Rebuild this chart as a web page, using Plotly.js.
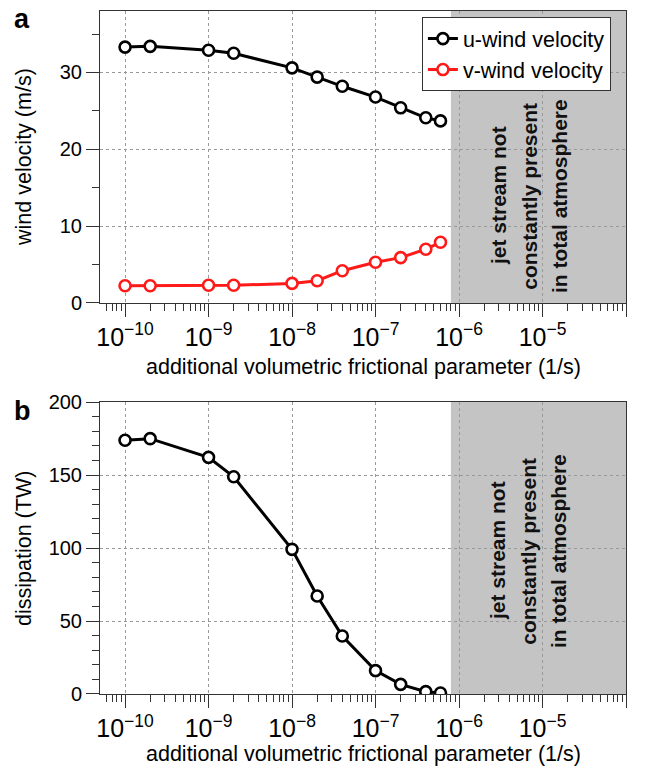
<!DOCTYPE html>
<html>
<head>
<meta charset="utf-8">
<script src="https://cdn.plot.ly/plotly-3.0.1.min.js"></script>
<style>html,body{margin:0;padding:0;background:#fff;}#chart{width:650px;height:767px;}</style>
</head>
<body>
<div id="chart"></div>
<script>
// Data
var frictionParam = [1e-10, 2e-10, 1e-9, 2e-9, 1e-8, 2e-8, 4e-8, 1e-7, 2e-7, 4e-7, 6e-7];
var uWind = [33.3, 33.4, 32.9, 32.5, 30.6, 29.4, 28.2, 26.8, 25.4, 24.1, 23.7];
var vWind = [2.25, 2.25, 2.3, 2.3, 2.55, 2.9, 4.2, 5.3, 5.9, 7.0, 7.9];
var dissipation = [173.8, 174.9, 162.1, 148.8, 99.1, 67.1, 39.7, 16.0, 6.6, 1.6, 0.7];
var shadeStart = 8e-7, shadeEnd = 1e-4;
var seriesNames = ['u-wind velocity', 'v-wind velocity'];
var xTitle = 'additional volumetric frictional parameter (1/s)';
var yTitleTop = 'wind velocity (m/s)';
var yTitleBottom = 'dissipation (TW)';
var panelLabels = ['a', 'b'];
var regionLines = ['jet stream not', 'constantly present', 'in total atmosphere'];

var FONT = 'Liberation Sans, Arial, Helvetica, sans-serif';
var AX = '#333';
var TITLE_SIZE = 21.5;

function markerStyle(c) {
  return {symbol: 'circle', size: 11, color: '#fff', line: {color: c, width: 2.6}};
}

var traces = [
  {x: frictionParam, y: uWind, name: seriesNames[0], type: 'scatter', mode: 'lines+markers',
   xaxis: 'x', yaxis: 'y', line: {color: '#000', width: 3}, marker: markerStyle('#000')},
  {x: frictionParam, y: vWind, name: seriesNames[1], type: 'scatter', mode: 'lines+markers',
   xaxis: 'x', yaxis: 'y', line: {color: '#ff1a1a', width: 3}, marker: markerStyle('#ff1a1a')},
  {x: frictionParam, y: dissipation, name: 'dissipation', type: 'scatter', mode: 'lines+markers',
   xaxis: 'x2', yaxis: 'y2', showlegend: false, line: {color: '#000', width: 3}, marker: markerStyle('#000')}
];

function xAxis(anchor) {
  return {
    type: 'log', range: [-10.3, -4], dtick: 1, exponentformat: 'power', showexponent: 'all',
    anchor: anchor, domain: [0, 1],
    ticks: 'outside', ticklen: 13, tickwidth: 1, tickcolor: AX,
    showline: true, linecolor: AX, linewidth: 1, mirror: true,
    showgrid: true, gridcolor: '#999', griddash: 'dot', gridwidth: 1, zeroline: false,
    minor: {ticks: 'outside', ticklen: 7, tickwidth: 1, tickcolor: AX, dtick: 'D1', showgrid: false},
    tickfont: {family: FONT, size: 20, color: '#000'}
  };
}
function yAxis(anchor, domain, range, dt, mdt) {
  return {
    anchor: anchor, domain: domain, range: range, dtick: dt,
    ticks: 'outside', ticklen: 13, tickwidth: 1, tickcolor: AX,
    showline: true, linecolor: AX, linewidth: 1, mirror: true,
    showgrid: true, gridcolor: '#999', griddash: 'dot', gridwidth: 1, zeroline: false,
    minor: {ticks: 'outside', ticklen: 7, tickwidth: 1, tickcolor: AX, dtick: mdt, showgrid: false},
    tickfont: {family: FONT, size: 20, color: '#000'}
  };
}

function txt(text, x, y, opts) {
  var a = {text: text, xref: 'paper', yref: 'paper', x: x, y: y, xanchor: 'center', yanchor: 'middle',
    showarrow: false, font: {family: FONT, size: TITLE_SIZE, color: '#000'}};
  for (var k in opts) a[k] = opts[k];
  return a;
}

var annotations = [
  txt('<b>' + panelLabels[0] + '</b>', -0.167, 0.988, {xanchor: 'left', font: {family: FONT, size: 27, color: '#000'}}),
  txt('<b>' + panelLabels[1] + '</b>', -0.167, 0.415, {xanchor: 'left', font: {family: FONT, size: 27, color: '#000'}}),
  txt(xTitle, 0.5, 0.4795, {}),
  txt(xTitle, 0.5, -0.0885, {}),
  txt(yTitleTop, -0.1445, 0.7862, {textangle: -90}),
  txt(yTitleBottom, -0.1445, 0.2138, {textangle: -90})
];
var lineX = [0.7567, 0.8150, 0.8726];
var panelY = [0.7291, 0.2094];
panelY.forEach(function (py) {
  regionLines.forEach(function (t, i) {
    annotations.push(txt('<b>' + t + '</b>', lineX[i], py,
      {textangle: -90, font: {family: FONT, size: 21, color: '#111'}}));
  });
});

var layout = {
  width: 650, height: 767,
  margin: {l: 100, r: 24, t: 11, b: 73},
  paper_bgcolor: '#fff', plot_bgcolor: '#fff',
  font: {family: FONT, size: 20, color: '#000'},
  showlegend: true,
  legend: {x: 0.612, y: 0.991, xanchor: 'left', yanchor: 'top', bgcolor: '#fff',
    bordercolor: AX, borderwidth: 1, font: {family: FONT, size: TITLE_SIZE, color: '#000'}},
  xaxis: xAxis('y'),
  yaxis: yAxis('x', [0.5725, 1], [0, 38], 10, 5),
  xaxis2: xAxis('y2'),
  yaxis2: yAxis('x2', [0, 0.4275], [0, 200], 50, 10),
  shapes: [
    {type: 'rect', xref: 'x', yref: 'y domain', x0: shadeStart, x1: shadeEnd, y0: 0, y1: 1,
     fillcolor: '#c4c4c4', line: {width: 0}, layer: 'below'},
    {type: 'rect', xref: 'x2', yref: 'y2 domain', x0: shadeStart, x1: shadeEnd, y0: 0, y1: 1,
     fillcolor: '#c4c4c4', line: {width: 0}, layer: 'below'}
  ],
  annotations: annotations
};

Plotly.newPlot('chart', traces, layout, {staticPlot: true, displayModeBar: false});
</script>
</body>
</html>
